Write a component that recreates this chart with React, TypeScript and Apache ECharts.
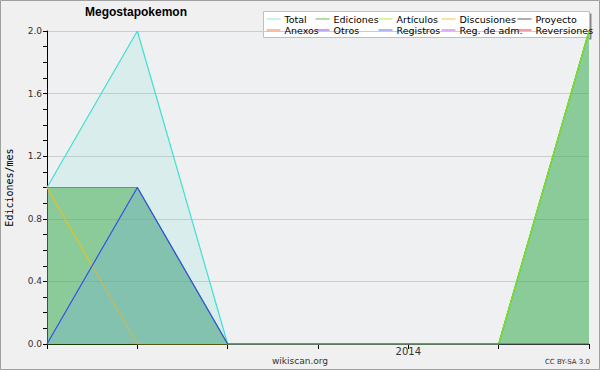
import React, { useEffect, useRef } from "react";
import * as echarts from "echarts";

const months = ["2013-09", "2013-10", "2013-11", "2013-12", "2014-01", "2014-02", "2014-03"];
const xLabels = ["", "", "", "", "2014", "", ""];
const total = [1, 2, 0, 0, 0, 0, 2];
const ediciones = [1, 1, 0, 0, 0, 0, 2];
const articulos = [0, 0, 0, 0, 0, 0, 2];
const discusiones = [1, 0, 0, 0, 0, 0, 0];
const registros = [0, 1, 0, 0, 0, 0, 0];
const empty: number[] = [];

const seriesNames = ["Total", "Ediciones", "Artículos", "Discusiones", "Proyecto", "Anexos", "Otros", "Registros", "Reg. de adm.", "Reversiones"];
const seriesColors = ["#40e0d0", "#3cb83c", "#88e020", "#e8c020", "#555555", "#f08040", "#8040d0", "#3a4ee8", "#c050e0", "#e03030"];
const legendColors = ["#90e8e0", "#60c060", "#b0f040", "#f0c840", "#606060", "#f08050", "#8050d8", "#6070ea", "#c860e8", "#e84040"];
const seriesData = [total, ediciones, articulos, discusiones, empty, empty, empty, registros, empty, empty];
const areaColors: (string | null)[] = [
  "rgba(64,224,208,0.12)",
  "rgba(60,170,70,0.5)",
  null,
  null,
  null,
  null,
  null,
  "rgba(104,168,240,0.25)",
  null,
  null,
];
const legendCols = [266, 315, 378, 441, 517];
const legendRows = [14, 25];

export default function App() {
  const ref = useRef<HTMLDivElement>(null);
  useEffect(() => {
    if (!ref.current) return;
    const chart = echarts.init(ref.current, null, { renderer: "svg" });
    const font = "DejaVu Sans";
    chart.setOption({
      animation: false,
      backgroundColor: "#f0f0f0",
      title: {
        text: "Megostapokemon",
        left: 85,
        top: 6,
        padding: 0,
        textStyle: { fontFamily: "Liberation Sans", fontSize: 12, fontWeight: "bold", color: "#000" },
      },
      legend: seriesNames.map((n, i) => ({
        data: [n],
        left: legendCols[i % 5],
        top: legendRows[Math.floor(i / 5)],
        itemWidth: 14,
        itemHeight: 9,
        itemGap: 0,
        padding: 0,
        selectedMode: false,
        itemStyle: { opacity: 0 },
        lineStyle: { width: 1, color: legendColors[i] },
        textStyle: { fontFamily: font, fontSize: 9.5, color: "#000", padding: [0, 0, 0, -1] },
      })),
      grid: {
        left: 47,
        right: 11,
        top: 31,
        bottom: 26,
        containLabel: false,
        outerBoundsMode: "none",
        show: true,
        backgroundColor: "#eff0f2",
        borderWidth: 0,
      },
      xAxis: {
        type: "category",
        data: months,
        boundaryGap: false,
        axisLine: { lineStyle: { color: "#000", width: 1 } },
        axisTick: { show: true, length: 5, inside: false, lineStyle: { color: "#000" } },
        axisLabel: {
          formatter: (_v: string, i: number) => xLabels[i],
          fontFamily: font,
          fontSize: 10,
          color: "#333",
          margin: 2,
          interval: 0,
        },
        splitLine: { show: false },
      },
      yAxis: {
        type: "value",
        min: 0,
        max: 2,
        interval: 0.4,
        name: "Ediciones/mes",
        nameLocation: "middle",
        nameGap: 33,
        nameTextStyle: { fontFamily: "DejaVu Sans Mono", fontSize: 10, color: "#000" },
        axisLine: { show: true, lineStyle: { color: "#000", width: 1 } },
        axisTick: { show: true, length: 4, lineStyle: { color: "#000" } },
        minorTick: { show: true, splitNumber: 4, length: 4, lineStyle: { color: "#000" } },
        axisLabel: {
          formatter: (v: number) => v.toFixed(1),
          fontFamily: font,
          fontSize: 9,
          color: "#333",
          margin: 5,
        },
        splitLine: { show: true, lineStyle: { color: "#cccccc", width: 1 } },
      },
      series: seriesNames.map((n, i) => ({
        name: n,
        type: "line",
        data: seriesData[i],
        symbol: "none",
        color: seriesColors[i],
        lineStyle: { width: 1.2, color: seriesColors[i] },
        areaStyle: areaColors[i] ? { color: areaColors[i], opacity: 1 } : undefined,
        z: 2 + i,
      })),
      graphic: [
        { type: "rect", shape: { x: 0.5, y: 0.5, width: 599, height: 369 }, style: { fill: "none", stroke: "#a0a0a0", lineWidth: 1 }, z: 100 },
        { type: "rect", shape: { x: 265.5, y: 13.5, width: 326, height: 26 }, style: { fill: "#888888" }, z: -1 },
        { type: "rect", shape: { x: 263.5, y: 11.5, width: 326, height: 26 }, style: { fill: "#ffffff", stroke: "#c0c0c0", lineWidth: 1 }, z: 0 },
        { type: "text", x: 300, y: 356, style: { text: "wikiscan.org", fontFamily: font, fontSize: 9, fill: "#333", textAlign: "center" } },
        { type: "text", x: 590, y: 358, style: { text: "CC BY-SA 3.0", fontFamily: font, fontSize: 7, fill: "#333", textAlign: "right" } },
      ],
    });
    return () => chart.dispose();
  }, []);
  return <div ref={ref} style={{ position: "fixed", left: 0, top: 0, width: 600, height: 370 }} />;
}
